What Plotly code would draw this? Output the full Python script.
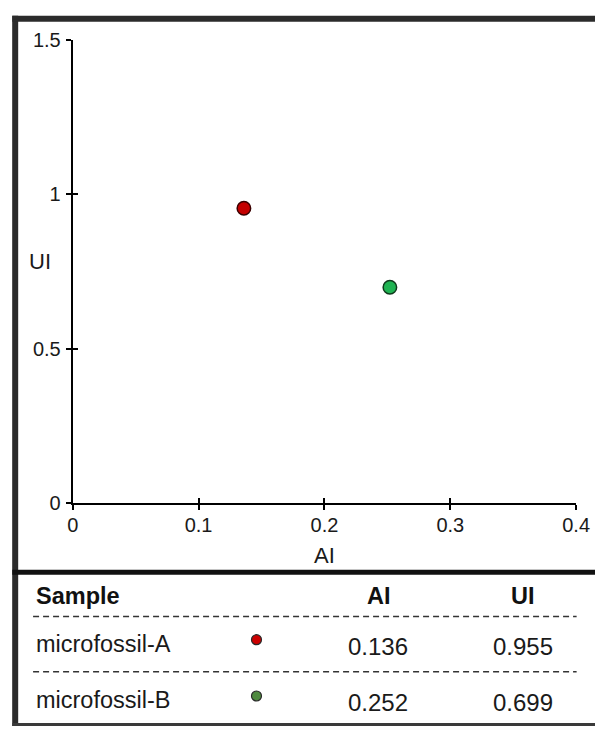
import plotly.graph_objects as go

# ---------------- data ----------------
samples = ["microfossil-A", "microfossil-B"]
ai_values = [0.136, 0.252]
ui_values = [0.955, 0.699]
plot_colors = ["#c40000", "#1fb352"]
plot_edges = ["#3a0000", "#103a1c"]
table_colors = ["#cc0000", "#4f8a3f"]
x_ticks = [0, 0.1, 0.2, 0.3, 0.4]
x_labels = ["0", "0.1", "0.2", "0.3", "0.4"]
y_ticks = [0, 0.5, 1, 1.5]
y_labels = ["0", "0.5", "1", "1.5"]
headers = ["Sample", "AI", "UI"]

# ---------------- layout constants ----------------
W, H = 609, 739
FONT = "Liberation Sans, Arial, Helvetica, sans-serif"
PX_L, PX_R = 69, 589.5      # plot area, pixels
PY_T, PY_B = 30, 507

col_sample_x = 28.5
col_dot_x = 259
col_ai_x = 385
col_ui_x = 535
header_y = 603
row_y0, row_dy = 652, 58

fig = go.Figure()

# main scatter
fig.add_trace(go.Scatter(
    x=ai_values, y=ui_values, mode="markers", text=samples,
    marker=dict(size=13.5, color=plot_colors, line=dict(color=plot_edges, width=1.5)),
    showlegend=False, hovertemplate="%{text}<br>AI=%{x}<br>UI=%{y}<extra></extra>",
    xaxis="x", yaxis="y"))
# hidden copy to carry the overlay axes (inside half of crossing ticks)
fig.add_trace(go.Scatter(
    x=ai_values, y=ui_values, mode="markers", marker=dict(size=1, opacity=0),
    showlegend=False, hoverinfo="skip", xaxis="x2", yaxis="y2"))

# table dots
row_ys = [row_y0 + i * row_dy for i in range(len(samples))]
fig.add_trace(go.Scatter(
    x=[col_dot_x] * len(samples), y=[y - 4 for y in row_ys], mode="markers",
    marker=dict(size=10, color=table_colors, line=dict(color="#2a2a2a", width=1.2)),
    showlegend=False, hoverinfo="skip", xaxis="x3", yaxis="y3"))

axis_common = dict(showgrid=False, zeroline=False, linecolor="black", linewidth=2,
                   tickcolor="black", tickwidth=2, ticklen=5,
                   tickfont=dict(family=FONT, size=20, color="#1a1a1a"), fixedrange=True)

xdom = [PX_L / W, PX_R / W]
ydom = [(H - PY_B) / H, (H - PY_T) / H]

fig.update_layout(
    autosize=True,
    margin=dict(l=0, r=0, t=0, b=0, pad=0),
    paper_bgcolor="white", plot_bgcolor="rgba(0,0,0,0)",
    font=dict(family=FONT, color="#1a1a1a"),
    xaxis=dict(domain=xdom, range=[0, 0.4], anchor="y", showline=True, ticks="outside",
               tickvals=x_ticks, ticktext=x_labels, ticklabelstandoff=-2, **axis_common),
    yaxis=dict(domain=ydom, range=[0, 1.5], anchor="x", showline=True, ticks="outside",
               tickvals=y_ticks, ticktext=y_labels, ticklabelstandoff=1, **axis_common),
    xaxis2=dict(overlaying="x", anchor="y2", range=[0, 0.4], showline=False, ticks="inside",
                tickvals=x_ticks, showticklabels=False, **axis_common),
    yaxis2=dict(overlaying="y", anchor="x2", range=[0, 1.5], showline=False, ticks="inside",
                tickvals=y_ticks, showticklabels=False, **axis_common),
    xaxis3=dict(domain=[0, 1], range=[0, W], anchor="y3", visible=False, fixedrange=True),
    yaxis3=dict(domain=[0, 1], range=[H, 0], anchor="x3", visible=False, fixedrange=True),
)

shapes = []
# frame
shapes.append(dict(type="line", xref="x3", yref="y3", x0=9.5, x1=9.5, y0=5, y1=737,
                   line=dict(color="#2b2b2b", width=6)))
shapes.append(dict(type="line", xref="x3", yref="y3", x0=6.5, x1=W, y0=8, y1=8,
                   line=dict(color="#2b2b2b", width=6)))
shapes.append(dict(type="line", xref="x3", yref="y3", x0=6.5, x1=W, y0=735.5, y1=735.5,
                   line=dict(color="#3a3a3a", width=3)))
# separator between chart and table
shapes.append(dict(type="line", xref="x3", yref="y3", x0=6.5, x1=W, y0=578.5, y1=578.5,
                   line=dict(color="#111111", width=5)))
# dashed row rules
for y in [header_y + 21] + [r + 29 for r in row_ys[:-1]]:
    shapes.append(dict(type="line", xref="x3", yref="y3", x0=28, x1=590, y0=y, y1=y,
                       line=dict(color="#333333", width=1.5, dash="6px,4px")))
fig.update_layout(shapes=shapes)

ann = []
# axis titles
ann.append(dict(x=(PX_L + PX_R) / 2, y=561, xref="x3", yref="y3", text="AI", showarrow=False,
                font=dict(size=22, family=FONT, color="#1a1a1a"), xanchor="center", yanchor="middle"))
ann.append(dict(x=35, y=258, xref="x3", yref="y3", text="UI", showarrow=False,
                font=dict(size=22, family=FONT, color="#1a1a1a"), xanchor="center", yanchor="middle"))
# table headers
hdr_pos = [(col_sample_x, "left"), (col_ai_x + 1, "center"), (col_ui_x, "center")]
for h, (x, xa) in zip(headers, hdr_pos):
    ann.append(dict(x=x, y=header_y, xref="x3", yref="y3", text="<b>%s</b>" % h, showarrow=False,
                    font=dict(size=23.5, family=FONT, color="#111111"), xanchor=xa, yanchor="middle"))
# table rows
for s, a, u, y in zip(samples, ai_values, ui_values, row_ys):
    ann.append(dict(x=col_sample_x, y=y, xref="x3", yref="y3", text=s, showarrow=False,
                    font=dict(size=23.5, family=FONT, color="#1a1a1a"), xanchor="left", yanchor="middle"))
    ann.append(dict(x=col_ai_x, y=y + 3, xref="x3", yref="y3", text="%.3f" % a, showarrow=False,
                    font=dict(size=24, family=FONT, color="#1a1a1a"), xanchor="center", yanchor="middle"))
    ann.append(dict(x=col_ui_x, y=y + 3, xref="x3", yref="y3", text="%.3f" % u, showarrow=False,
                    font=dict(size=24, family=FONT, color="#1a1a1a"), xanchor="center", yanchor="middle"))
fig.update_layout(annotations=ann)

post = """
var st = document.createElement('style');
st.innerHTML = 'html,body{margin:0!important;padding:0!important;overflow:hidden!important;}';
document.head.appendChild(st);
var gd = document.getElementById('{plot_id}');
gd.style.width = '100vw';
gd.style.height = '100vh';
Plotly.Plots.resize(gd);
"""

fig.write_html(
    "out.html",
    default_width="100vw",
    default_height="100vh",
    config={"displayModeBar": False, "responsive": True},
    post_script=post,
)
